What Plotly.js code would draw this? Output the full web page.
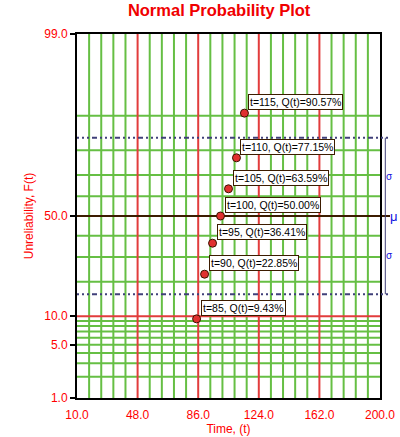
<!DOCTYPE html>
<html>
<head>
<meta charset="utf-8">
<script src="https://cdn.plot.ly/plotly-3.0.1.min.js"></script>
<style>
  html, body { margin: 0; padding: 0; background: #fff; }
  #plot { width: 400px; height: 437px; }
</style>
</head>
<body>
<div id="plot"></div>
<script>
// observed data
var times = [85, 90, 95, 100, 105, 110, 115];
var unrel = [9.43, 22.85, 36.41, 50.00, 63.59, 77.15, 90.57];
var labels = ['t=85, Q(t)=9.43%', 't=90, Q(t)=22.85%', 't=95, Q(t)=36.41%',
              't=100, Q(t)=50.00%', 't=105, Q(t)=63.59%', 't=110, Q(t)=77.15%',
              't=115, Q(t)=90.57%'];

// axis ticks / grid
var xTicks = [10, 48, 86, 124, 162, 200];
var xSubdiv = 5;
var yTicks = [1, 5, 10, 50, 99];
var yTickText = ['1.0', '5.0', '10.0', '50.0', '99.0'];
var yGrid = [2, 3, 4, 5, 6, 7, 8, 9, 20, 30, 40, 60, 70, 80, 90];
var yRedLine = 10;
var yMuLine = 50;
var sigmaPct = [15.87, 84.13];  // mu +- 1 sigma

// inverse standard normal cdf (Acklam), p in (0,1)
function probit(p) {
  var a = [-3.969683028665376e+01, 2.209460984245205e+02, -2.759285104469687e+02,
           1.383577518672690e+02, -3.066479806614716e+01, 2.506628277459239e+00];
  var b = [-5.447609879822406e+01, 1.615858368580409e+02, -1.556989798598866e+02,
           6.680131188771972e+01, -1.328068155288572e+01];
  var c = [-7.784894002430293e-03, -3.223964580411365e-01, -2.400758277161838e+00,
           -2.549732539343734e+00, 4.374664141464968e+00, 2.938163982698783e+00];
  var d = [7.784695709041462e-03, 3.224671290700398e-01, 2.445134137142996e+00,
           3.754408661907416e+00];
  var pl = 0.02425, q, r;
  if (p < pl) {
    q = Math.sqrt(-2 * Math.log(p));
    return (((((c[0]*q+c[1])*q+c[2])*q+c[3])*q+c[4])*q+c[5]) /
           ((((d[0]*q+d[1])*q+d[2])*q+d[3])*q+1);
  }
  if (p > 1 - pl) {
    q = Math.sqrt(-2 * Math.log(1 - p));
    return -(((((c[0]*q+c[1])*q+c[2])*q+c[3])*q+c[4])*q+c[5]) /
            ((((d[0]*q+d[1])*q+d[2])*q+d[3])*q+1);
  }
  q = p - 0.5; r = q * q;
  return (((((a[0]*r+a[1])*r+a[2])*r+a[3])*r+a[4])*r+a[5])*q /
         (((((b[0]*r+b[1])*r+b[2])*r+b[3])*r+b[4])*r+1);
}
function pz(pct) { return probit(pct / 100); }

// minor x grid: split each major interval
var xMinor = [];
for (var i = 0; i < xTicks.length - 1; i++) {
  var step = (xTicks[i + 1] - xTicks[i]) / xSubdiv;
  for (var k = 1; k < xSubdiv; k++) xMinor.push(xTicks[i] + k * step);
}

var RED = '#e23c3c', GREEN = '#66bf44', BROWN = '#3c1c00', NAVY = '#40407a';

var trace = {
  x: times,
  y: unrel.map(pz),
  type: 'scatter',
  mode: 'markers',
  marker: { size: 8, color: '#e03030', line: { color: '#3c1400', width: 1 } },
  hoverinfo: 'skip'
};

// grid drawn as shapes so the colour order matches: green, red, brown
var shapes = [];
function vline(v, color) {
  shapes.push({ type: 'line', layer: 'below', xref: 'x', yref: 'paper',
    x0: v, x1: v, y0: 0, y1: 1, line: { color: color, width: 2 } });
}
function hline(pct, color, x1) {
  shapes.push({ type: 'line', layer: 'below', xref: 'paper', yref: 'y',
    x0: 0, x1: x1 || 1, y0: pz(pct), y1: pz(pct), line: { color: color, width: 2 } });
}
xMinor.forEach(function (v) { vline(v, GREEN); });
yGrid.forEach(function (p) { hline(p, GREEN); });
xTicks.slice(1, -1).forEach(function (v) { vline(v, RED); });
hline(yRedLine, RED);
hline(yMuLine, BROWN, 1.033);

// sigma dotted lines
sigmaPct.forEach(function (s) {
  shapes.push({ type: 'line', layer: 'above', xref: 'paper', yref: 'y',
    x0: 0, x1: 1.036, y0: pz(s), y1: pz(s),
    line: { color: NAVY, width: 2, dash: '2px,3px,2px,3px,2px,3px,5px,3px' } });
});
// sigma bracket
shapes.push({ type: 'line', layer: 'above', xref: 'paper', yref: 'y',
  x0: 1.0175, x1: 1.0175, y0: pz(sigmaPct[0]), y1: pz(sigmaPct[1]),
  line: { color: NAVY, width: 1 } });

var annotations = times.map(function (t, i) {
  return {
    x: t, y: pz(unrel[i]), xref: 'x', yref: 'y',
    text: labels[i], showarrow: false,
    xanchor: 'left', yanchor: 'bottom', xshift: 4, yshift: 3,
    bgcolor: '#fff', bordercolor: BROWN, borderwidth: 1, borderpad: 1,
    font: { family: 'Arial, Liberation Sans, sans-serif', size: 10.5, color: '#000' }
  };
});
annotations.push({ x: 1.046, y: pz(yMuLine), xref: 'paper', yref: 'y', text: 'μ',
  showarrow: false, xanchor: 'center', yanchor: 'middle',
  font: { family: 'Arial, sans-serif', size: 13, color: '#1010e0' } });
[ (pz(yMuLine) + pz(sigmaPct[1])) / 2, (pz(yMuLine) + pz(sigmaPct[0])) / 2 ].forEach(function (yy) {
  annotations.push({ x: 1.031, y: yy, xref: 'paper', yref: 'y', text: 'σ',
    showarrow: false, xanchor: 'center', yanchor: 'middle',
    font: { family: 'Arial, sans-serif', size: 10, color: '#1010e0' } });
});

var layout = {
  width: 400, height: 437,
  margin: { l: 77, r: 20, t: 34, b: 39 },
  paper_bgcolor: '#fff', plot_bgcolor: '#fff',
  showlegend: false,
  font: { family: 'Arial, Liberation Sans, sans-serif', size: 12, color: 'red' },
  title: { text: '<b>Normal Probability Plot</b>', x: 0.469, xref: 'paper', xanchor: 'center',
    y: 1, yref: 'container', yanchor: 'top', pad: { t: 4 },
    font: { size: 16.5, color: '#f00000' } },
  xaxis: {
    range: [10, 200], tickmode: 'array', tickvals: xTicks,
    ticktext: xTicks.map(function (v) { return v.toFixed(1); }),
    showgrid: false,
    showline: true, mirror: true, linecolor: '#000', linewidth: 2,
    ticks: 'outside', ticklen: 5, tickcolor: 'rgba(0,0,0,0)',
    zeroline: false, fixedrange: true,
    tickfont: { size: 12, color: 'red' },
    title: { text: 'Time, (t)', standoff: 0, font: { size: 12, color: 'red' } }
  },
  yaxis: {
    range: [pz(1), pz(99)], tickmode: 'array',
    tickvals: yTicks.map(pz), ticktext: yTickText,
    showgrid: false,
    showline: true, mirror: true, linecolor: '#000', linewidth: 2,
    ticks: 'outside', ticklen: 5, tickcolor: '#000', tickwidth: 2,
    zeroline: false, fixedrange: true,
    tickfont: { size: 12, color: 'red' },
    title: { text: 'Unreliability, F(t)', standoff: 8, font: { size: 12, color: 'red' } }
  },
  shapes: shapes,
  annotations: annotations
};

Plotly.newPlot('plot', [trace], layout, { staticPlot: true, displayModeBar: false });
</script>
</body>
</html>
